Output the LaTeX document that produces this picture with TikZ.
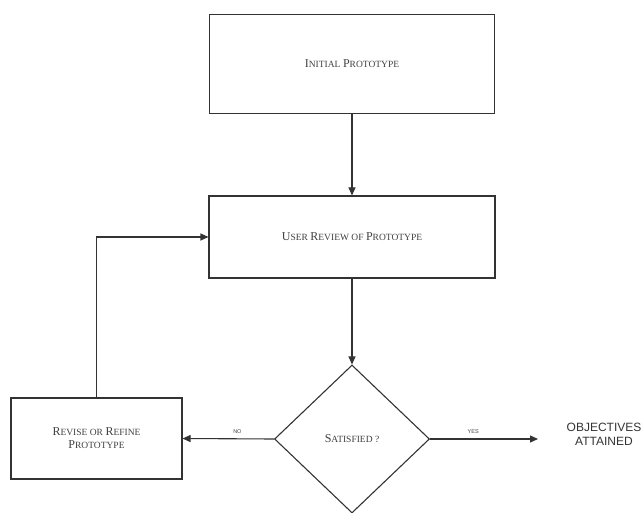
\documentclass[tikz,border=0pt]{standalone}
\usepackage{fontspec}
\setmainfont{Liberation Serif}
\newfontfamily\arialf{Liberation Sans}
\usetikzlibrary{shapes.geometric,arrows.meta}
\newcommand\bigc[1]{{\fontsize{12}{14}\selectfont #1}}
\newcommand\smc[1]{{\fontsize{9.5}{14}\selectfont #1}}
\begin{document}
\begin{tikzpicture}[x=1pt,y=-1pt,
  line/.style={draw=black!80,line width=1.1pt},
  boxnode/.style={line,rectangle,inner sep=0pt,align=center,text=black!75},
  arr/.style={line,-{Triangle[length=8pt,width=7pt]}},
  lbl/.style={font=\arialf\fontsize{5.5}{6}\selectfont,text=black!75,inner sep=1pt}]
\useasboundingbox (0,0) rectangle (642,513);
\node[boxnode,minimum width=285pt,minimum height=99pt] (init) at (352,64)
  {\bigc{I}\smc{NITIAL} \bigc{P}\smc{ROTOTYPE}};
\node[boxnode,minimum width=286pt,minimum height=82pt] (review) at (352,237)
  {\bigc{U}\smc{SER} \bigc{R}\smc{EVIEW OF} \bigc{P}\smc{ROTOTYPE}};
\node[boxnode,diamond,minimum width=155pt,minimum height=148pt] (sat) at (352,439)
  {\bigc{S}\smc{ATISFIED ?}};
\node[boxnode,minimum width=171pt,minimum height=81pt] (revise) at (96.5,438.5)
  {\bigc{R}\smc{EVISE OR} \bigc{R}\smc{EFINE}\\[1pt]\bigc{P}\smc{ROTOTYPE}};
\node[align=center,font=\arialf\fontsize{12}{14}\selectfont,text=black!80,inner sep=0pt] (obj) at (604,434)
  {OBJECTIVES\\ATTAINED};
\coordinate (yesend) at (538,439);
\draw[arr] (init.south) -- (review.north);
\draw[arr] (review.south) -- (sat.north);
\draw[arr] (sat.west) -- node[lbl,above=4pt,pos=0.4] (no) {NO} (revise.east);
\draw[arr] (sat.east) -- node[lbl,above=4pt,pos=0.4] (yes) {YES} (yesend);
\draw[arr] (revise.north) |- (review.west);
\end{tikzpicture}
\end{document}
